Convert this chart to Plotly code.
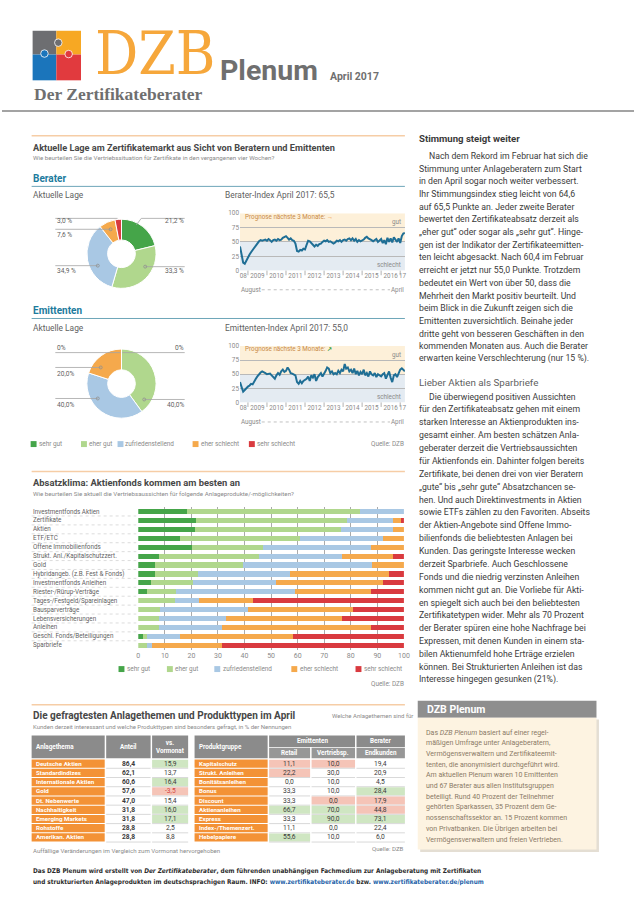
import plotly.graph_objects as go
import pandas as pd

W, H = 640, 906
FONT = "Roboto, Noto Sans, sans-serif"
COND = "DejaVu Sans Condensed, Roboto, sans-serif"
SERIF = "DejaVu Serif Condensed, Liberation Serif, serif"

TXT = "#3b3b3b"
MID = "#5f5f5f"
LIGHT = "#8a8a8a"
TEAL = "#1c7b9d"
ORANGE_RULE = "#f6cda6"
CELL_ORANGE = "#f39236"
HEAD_GREY = "#8b8b8b"
SUB_GREY = "#979797"
CELL_GREEN = "#cfe6c2"
CELL_RED = "#f5c4b7"
LINE_BLUE = "#1f6e95"

# ---------------- data ----------------
pie_labels = ["sehr gut", "eher gut", "zufriedenstellend", "eher schlecht", "sehr schlecht"]
pie_colors = ["#45a549", "#b0d78d", "#a9c8e4", "#f5a94c", "#d93a3f"]
berater_lage = [21.2, 33.3, 34.9, 7.6, 3.0]
emittenten_lage = [0.0, 40.0, 40.0, 20.0, 0.0]

months = pd.date_range("2008-08-01", "2017-04-01", freq="MS")
berater_index = [
    42, 28, 14, 12, 18,
    24, 28, 32, 36, 40, 44, 48, 51, 53, 52, 53, 54,
    52, 55, 53, 50, 53, 54, 52, 55, 53, 54, 57, 58,
    60, 57, 54, 56, 53, 52, 47, 34, 33, 36, 35, 38,
    37, 45, 52, 51, 48, 44, 42, 45, 43, 46, 47, 50,
    52, 51, 53, 50, 51, 49, 47, 49, 52, 51, 53, 50,
    53, 54, 52, 55, 56, 53, 56, 52, 55, 50, 53, 51,
    52, 54, 57, 59, 56, 55, 53, 51, 54, 55, 50, 52,
    55, 48, 53, 46, 57, 50, 56, 49, 58, 54, 50, 56,
    48, 60, 64.6, 65.5,
]
emittenten_index = [
    36, 28, 19, 22, 26,
    28, 30, 33, 32, 38, 42, 46, 50, 53, 55, 54, 52,
    50, 50, 51, 48, 44, 42, 48, 52, 49, 55, 58, 54,
    56, 62, 58, 52, 51, 50, 48, 36, 33, 38, 34, 38,
    40, 42, 46, 38, 48, 44, 50, 38, 45, 48, 52, 46,
    50, 56, 62, 60, 52, 55, 50, 52, 50, 56, 52, 58,
    55, 68, 60, 62, 55, 58, 52, 60, 50, 56, 48, 54,
    50, 58, 48, 52, 46, 55, 50, 48, 52, 45, 50, 48,
    46, 50, 52, 42, 48, 55, 44, 36, 48, 50, 45, 52,
    58, 60.4, 57, 55.0,
]
year_labels = ["08", "2009", "2010", "2011", "2012", "2013", "2014", "2015", "2016", "17"]
year_label_dates = ["2008-10-01", "2009-07-01", "2010-07-01", "2011-07-01", "2012-07-01",
                    "2013-07-01", "2014-07-01", "2015-07-01", "2016-07-01", "2017-02-15"]
year_starts = [2009, 2010, 2011, 2012, 2013, 2014, 2015, 2016, 2017]

categories = ["Investmentfonds Aktien", "Zertifikate", "Aktien", "ETF/ETC", "Offene Immobilienfonds",
              "Strukt. Anl./Kapitalschutzzert.", "Gold", "Hybridangeb. (z.B. Fest & Fonds)",
              "Investmentfonds Anleihen", "Riester-/Rürup-Verträge", "Tages-/Festgeld/Spareinlagen",
              "Bausparverträge", "Lebensversicherungen", "Anleihen", "Geschl. Fonds/Beteiligungen", "Sparbriefe"]
sehr_gut = [18.2, 21.9, 21.3, 15.6, 20.2, 7.8, 6.3, 6.3, 4.7, 3.3, 0, 0, 0, 0, 1.6, 0]
eher_gut = [65.2, 56.5, 54.9, 45.2, 26.9, 37.7, 33.2, 16.1, 15.9, 11.0, 13.8, 8.1, 7.8, 7.8, 1.7, 3.1]
zufrieden = [16.6, 17.4, 19.6, 31.5, 40.5, 31.2, 48.4, 34.8, 31.1, 44.7, 9.2, 33.2, 25.3, 23.6, 12.4, 1.9]
eher_schlecht = [0, 3.0, 4.2, 7.7, 12.4, 19.1, 12.1, 37.0, 40.6, 28.6, 20.2, 39.6, 43.7, 56.2, 42.4, 26.4]
sehr_schlecht = [0, 1.2, 0, 0, 0, 4.2, 0, 5.8, 7.7, 12.4, 56.8, 19.1, 23.2, 12.4, 41.9, 68.6]
bar_ticks = list(range(0, 101, 10))

themen = ["Deutsche Aktien", "Standardindizes", "Internationale Aktien", "Gold", "Dt. Nebenwerte",
          "Nachhaltigkeit", "Emerging Markets", "Rohstoffe", "Amerikan. Aktien"]
anteil = [86.4, 62.1, 60.6, 57.6, 47.0, 31.8, 31.8, 28.8, 28.8]
vs_vormonat = [15.9, 13.7, 16.4, -3.5, 15.4, 16.0, 17.1, 2.5, 8.8]
vs_markiert = ["+", "", "+", "-", "", "+", "+", "", ""]

produkte = ["Kapitalschutz", "Strukt. Anleihen", "Bonitätsanleihen", "Bonus", "Discount",
            "Aktienanleihen", "Express", "Index-/Themenzert.", "Hebelpapiere"]
emi_retail = [11.1, 22.2, 0.0, 33.3, 33.3, 66.7, 33.3, 11.1, 55.6]
emi_vertrieb = [10.0, 30.0, 10.0, 10.0, 0.0, 70.0, 90.0, 0.0, 10.0]
ber_endkunden = [19.4, 20.9, 4.5, 28.4, 17.9, 44.8, 73.1, 22.4, 6.0]
retail_markiert = ["-", "-", "", "", "", "+", "", "", "+"]
vertrieb_markiert = ["-", "", "", "", "-", "+", "+", "", ""]
endkunden_markiert = ["", "", "", "+", "-", "-", "+", "", ""]

absatz1 = [
    "Nach dem Rekord im Februar hat sich die",
    "Stimmung unter Anlageberatern zum Start",
    "in den April sogar noch weiter verbessert.",
    "Ihr Stimmungsindex stieg leicht von 64,6",
    "auf 65,5 Punkte an. Jeder zweite Berater",
    "bewertet den Zertifikateabsatz derzeit als",
    "„eher gut“ oder sogar als „sehr gut“. Hinge-",
    "gen ist der Indikator der Zertifikateemitten-",
    "ten leicht abgesackt. Nach 60,4 im Februar",
    "erreicht er jetzt nur 55,0 Punkte. Trotzdem",
    "bedeutet ein Wert von über 50, dass die",
    "Mehrheit den Markt positiv beurteilt. Und",
    "beim Blick in die Zukunft zeigen sich die",
    "Emittenten zuversichtlich. Beinahe jeder",
    "dritte geht von besseren Geschäften in den",
    "kommenden Monaten aus. Auch die Berater",
    "erwarten keine Verschlechterung (nur 15 %).",
]
absatz2 = [
    "Die überwiegend positiven Aussichten",
    "für den Zertifikateabsatz gehen mit einem",
    "starken Interesse an Aktienprodukten ins-",
    "gesamt einher. Am besten schätzen Anla-",
    "geberater derzeit die Vertriebsaussichten",
    "für Aktienfonds ein. Dahinter folgen bereits",
    "Zertifikate, bei denen drei von vier Beratern",
    "„gute“ bis „sehr gute“ Absatzchancen se-",
    "hen. Und auch Direktinvestments in Aktien",
    "sowie ETFs zählen zu den Favoriten. Abseits",
    "der Aktien-Angebote sind Offene Immo-",
    "bilienfonds die beliebtesten Anlagen bei",
    "Kunden. Das geringste Interesse wecken",
    "derzeit Sparbriefe. Auch Geschlossene",
    "Fonds und die niedrig verzinsten Anleihen",
    "kommen nicht gut an. Die Vorliebe für Akti-",
    "en spiegelt sich auch bei den beliebtesten",
    "Zertifikatetypen wider. Mehr als 70 Prozent",
    "der Berater spüren eine hohe Nachfrage bei",
    "Expressen, mit denen Kunden in einem sta-",
    "bilen Aktienumfeld hohe Erträge erzielen",
    "können. Bei Strukturierten Anleihen ist das",
    "Interesse hingegen gesunken (21%).",
]
box_text = [
    "Das <i>DZB Plenum</i> basiert auf einer regel-",
    "mäßigen Umfrage unter Anlageberatern,",
    "Vermögensverwaltern und Zertifikateemit-",
    "tenten, die anonymisiert durchgeführt wird.",
    "Am aktuellen Plenum waren 10 Emittenten",
    "und 67 Berater aus allen Institutsgruppen",
    "beteiligt. Rund 40 Prozent der Teilnehmer",
    "gehörten Sparkassen, 35 Prozent dem Ge-",
    "nossenschaftssektor an. 15 Prozent kommen",
    "von Privatbanken. Die Übrigen arbeiten bei",
    "Vermögensverwaltern und freien Vertrieben.",
]


def X(px):
    return px / W


def Y(py):
    return 1 - py / H


def fmt(v):
    return f"{v:.1f}".replace(".", ",")


fig = go.Figure()
anns, shapes = [], []


def T(x, y, s, size=7, color=TXT, anchor="left", bold=False, family=FONT, yanchor="middle", **extra):
    if bold:
        s = "<b>" + s + "</b>"
    anns.append(dict(x=X(x), y=Y(y), xref="paper", yref="paper", text=s, showarrow=False,
                     xanchor=anchor, yanchor=yanchor, borderpad=0,
                     font=dict(size=size, color=color, family=family), **extra))


def R(x0, y0, x1, y1, fill, lc=None, lw=0, layer="above"):
    shapes.append(dict(type="rect", xref="paper", yref="paper", x0=X(x0), x1=X(x1), y0=Y(y1), y1=Y(y0),
                       fillcolor=fill, line=dict(color=lc or fill, width=lw), layer=layer))


def L(x0, y0, x1, y1, color, width=1, dash="solid"):
    shapes.append(dict(type="line", xref="paper", yref="paper", x0=X(x0), x1=X(x1), y0=Y(y0), y1=Y(y1),
                       line=dict(color=color, width=width, dash=dash), layer="above"))


def C(cx, cy, r, fill, lc=None, lw=0):
    shapes.append(dict(type="circle", xref="paper", yref="paper", x0=X(cx - r), x1=X(cx + r),
                       y0=Y(cy + r), y1=Y(cy - r), fillcolor=fill,
                       line=dict(color=lc or fill, width=lw), layer="above"))


# ---------------- header ----------------
R(31, 27, 55, 51, "#6d6e71")
R(55, 27, 80, 51, "#f7a823")
R(31, 51, 55, 77, "#1b75bb")
R(55, 51, 80, 77, "#e13a3e")
C(57, 39, 3.8, "#6d6e71", "white", 0.8)
C(43, 50, 3.8, "#1b75bb", "white", 0.8)
C(67.5, 50.5, 3.8, "#e13a3e", "white", 0.8)
T(93, 49, "DZB", 60, "#f6a73b", family=SERIF, height=56, valign="middle")
T(220, 67, "Plenum", 28.5, "#6f6f6f", bold=True)
T(331, 73, "April 2017", 10.5, "#6f6f6f", bold=True)
T(31, 91, "Der Zertifikateberater", 17.5, "#6f6f6f", bold=True, family="Liberation Serif, serif")
L(0, 108, 640, 108, "#a3a3a3", 2)

# ---------------- section 1 ----------------
L(30, 133, 408, 133, ORANGE_RULE, 1.5)
T(30, 145, "Aktuelle Lage am Zertifikatemarkt aus Sicht von Beratern und Emittenten", 9.2, "#474747", bold=True)
T(30, 155.5, "Wie beurteilen Sie die Vertriebssituation für Zertifikate in den vergangenen vier Wochen?", 6.2, LIGHT)

for (ttl, ty, ly, sub_y, idx_title) in [("Berater", 176, 184, 193, "Berater-Index April 2017: 65,5"),
                                        ("Emittenten", 309.3, 317.3, 326.7, "Emittenten-Index April 2017: 55,0")]:
    T(30, ty, ttl, 10, TEAL, bold=True)
    L(30, ly, 408, ly, "#6ea6b9", 1)
    T(30, sub_y, "Aktuelle Lage", 8.4, MID)
    T(225, sub_y, idx_title, 8.4, MID)

# pies
pie_specs = [
    (berater_lage, 121, 252, " %",
     [("r", 219, 216.3, 141, False), ("r", 269, 265, 145, True), ("l", 269, 264, 97, True),
      ("l", 233, 227.3, 110, True), ("l", 219, 216.3, 117, False)]),
    (emittenten_lage, 121, 383, "%",
     [("r", 347.3, 351.7, 122, False), ("r", 405, 399, 144, True), ("l", 405, 398, 97, True),
      ("l", 373.3, 366.7, 100, True), ("l", 347.3, 351.7, 120, False)]),
]
PR = 35
for vals, cx, cy, unit, lay in pie_specs:
    fig.add_trace(go.Pie(values=vals, labels=pie_labels, sort=False, direction="clockwise", rotation=0,
                         hole=0.4, textinfo="none", showlegend=False,
                         marker=dict(colors=pie_colors, line=dict(color="white", width=1)),
                         domain=dict(x=[X(cx - PR), X(cx + PR)], y=[Y(cy + PR), Y(cy - PR)])))
    for v, (side, lab_y, line_y, inner_x, circ) in zip(vals, lay):
        lab = ("0" + unit.strip()) if v == 0 else fmt(v) + unit
        if side == "l":
            L(54, line_y, inner_x, line_y, "#a5a5a5", 0.8)
            T(55, lab_y, lab, 6.6, MID)
        else:
            L(inner_x, line_y, 185, line_y, "#a5a5a5", 0.8)
            T(185, lab_y, lab, 6.6, MID, anchor="right")
        if circ:
            C(inner_x, line_y, 1.5, "rgba(0,0,0,0)", "#8f8f8f", 0.8)
L(136, 223, 141, 216.3, "#a5a5a5", 0.8)

# index line charts
line_x = dict(type="date", range=[months[0], months[-1]], tickvals=year_label_dates, ticktext=year_labels,
              tickangle=0, showgrid=False, zeroline=False, showline=False, ticks="",
              tickfont=dict(size=6.3, color=LIGHT, family=FONT))
line_y = dict(range=[0, 100], tickvals=[0, 25, 50, 75, 100], showgrid=True, gridcolor="#b9b9b9",
              gridwidth=0.8, zeroline=False, showline=False, ticks="",
              tickfont=dict(size=6.4, color=LIGHT, family=FONT))
chart_specs = [("x", "y", berater_index, 211, 269, "#ef8a22", "→", 288.3),
               ("x2", "y2", emittenten_index, 345, 402, "#3d9e3d", "↗", 421.7)]
for xa, ya, series, top, bot, arrow_col, arrow, aug_y in chart_specs:
    fig.add_trace(go.Scatter(x=months, y=series, mode="lines", xaxis=xa, yaxis=ya, showlegend=False,
                             line=dict(color=LINE_BLUE, width=2)))
    shapes.append(dict(type="rect", xref=xa + " domain", yref=ya, x0=0, x1=1, y0=50, y1=100,
                       fillcolor="#fdf0d9", line=dict(width=0), layer="below"))
    shapes.append(dict(type="rect", xref=xa + " domain", yref=ya, x0=0, x1=1, y0=0, y1=50,
                       fillcolor="#e4ebf2", line=dict(width=0), layer="below"))
    for yr in year_starts:
        shapes.append(dict(type="line", xref=xa, yref=ya + " domain", x0=f"{yr}-01-01", x1=f"{yr}-01-01",
                           y0=0, y1=-0.08, line=dict(color="#a0a0a0", width=0.8), layer="above"))
    T(245, top + 3.5, "Prognose nächste 3 Monate: "
      f"<span style='color:{arrow_col}'><b>{arrow}</b></span>", 6.3, "#c98a48")
    T(405, top + 9, "gut", 6.3, LIGHT, anchor="right")
    T(405, bot - 5.5, "schlecht", 6.3, LIGHT, anchor="right")
    T(241, aug_y, "August", 6.3, LIGHT)
    T(408, aug_y, "April", 6.3, LIGHT, anchor="right")
    L(263, aug_y, 393, aug_y, "#b0b0b0", 0.8, "dot")

# legend 1
leg1 = [(29, 36), (80, 87), (117, 124), (193, 200), (250, 257)]
for (sx, tx), lab, col in zip(leg1, pie_labels, pie_colors):
    R(sx, 441, sx + 6, 447, col)
    T(tx, 444, lab, 6.4, LIGHT)
T(408, 444, "Quelle: DZB", 6.4, LIGHT, anchor="right")

# ---------------- section 2 ----------------
L(30, 471.7, 408, 471.7, ORANGE_RULE, 1.5)
T(30, 483, "Absatzklima: Aktienfonds kommen am besten an", 9.4, "#474747", bold=True)
T(30, 494, "Wie beurteilen Sie aktuell die Vertriebsaussichten für folgende Anlageprodukte/-möglichkeiten?",
  6.2, LIGHT)

for series, lab, col in zip([sehr_gut, eher_gut, zufrieden, eher_schlecht, sehr_schlecht], pie_labels, pie_colors):
    fig.add_trace(go.Bar(y=categories, x=series, orientation="h", name=lab, marker=dict(color=col, line=dict(width=0)),
                         xaxis="x3", yaxis="y3", showlegend=False))
for i, cat in enumerate(categories):
    anns.append(dict(x=X(30), y=cat, xref="paper", yref="y3", text=cat, showarrow=False, xanchor="left",
                     yanchor="middle", borderpad=0, font=dict(size=6.3, color=MID, family=FONT)))
    if i < len(categories) - 1:
        shapes.append(dict(type="line", xref="paper", yref="y3", x0=X(30), x1=X(136), y0=i + 0.5, y1=i + 0.5,
                           line=dict(color="#cdcdcd", width=0.7, dash="dot"), layer="above"))

leg2 = [(118, 125.5), (167, 174.5), (215, 222.5), (293, 300.5), (358, 365.5)]
for (sx, tx), lab, col in zip(leg2, pie_labels, pie_colors):
    R(sx, 668, sx + 6, 674, col)
    T(tx, 671, lab, 6.4, LIGHT)
T(408, 686, "Quelle: DZB", 6.4, LIGHT, anchor="right")

# ---------------- section 3 : tables ----------------
L(30, 707, 408, 707, ORANGE_RULE, 1.5)
T(30, 717.5, "Die gefragtesten Anlagethemen und Produkttypen im April", 10, "#474747", bold=True)
T(333, 717.5, "Welche Anlagethemen sind für", 6.0, LIGHT)
T(30, 728.5, "Kunden derzeit interessant und welche Produkttypen sind besonders gefragt, in % der Nennungen",
  6.0, LIGHT)

HT, HM, HB = 738, 750, 761
TOP, RH = 761.8, 9.3
WHITE_B = dict(size=6.3, color="white", bold=True)
# headers
R(30, HT, 104, HB, HEAD_GREY); T(33, (HT + HB) / 2, "Anlagethema", **WHITE_B)
R(105.5, HT, 150.5, HB, HEAD_GREY); T(128, (HT + HB) / 2, "Anteil", anchor="center", **WHITE_B)
R(152, HT, 188.5, HB, HEAD_GREY); T(170.3, (HT + HB) / 2, "vs.<br>Vormonat", anchor="center", **WHITE_B)
R(195, HT, 269, HB, HEAD_GREY); T(198, (HT + HB) / 2, "Produktgruppe", **WHITE_B)
R(270.5, HT, 357.5, HM - 0.5, HEAD_GREY); T(314, (HT + HM) / 2, "Emittenten", anchor="center", **WHITE_B)
R(359, HT, 408, HM - 0.5, HEAD_GREY); T(383.5, (HT + HM) / 2, "Berater", anchor="center", **WHITE_B)
for (a, b), lab in zip([(270.5, 312), (313.5, 357.5), (359, 408)], ["Retail", "Vertriebsp.", "Endkunden"]):
    R(a, HM + 0.5, b, HB, SUB_GREY)
    T((a + b) / 2, (HM + HB) / 2 + 0.3, lab, anchor="center", **WHITE_B)

mark_fill = {"+": CELL_GREEN, "-": CELL_RED}


def name_col(x0, x1, names):
    for i, nm in enumerate(names):
        y0 = TOP + i * RH
        R(x0, y0 + 0.5, x1, y0 + RH - 0.5, CELL_ORANGE)
        T(x0 + 3, y0 + RH / 2, nm, 6.2, "white", bold=True)


def value_col(x0, x1, vals, marks, bold=False):
    for i, v in enumerate(vals):
        y0 = TOP + i * RH
        m = marks[i] if marks else ""
        if m in mark_fill:
            R(x0, y0 + 0.6, x1, y0 + RH - 0.6, mark_fill[m])
        L(x0, y0 + RH, x1, y0 + RH, "#c9c9c9", 0.7)
        col = "#d2453f" if v < 0 else TXT
        T((x0 + x1) / 2, y0 + RH / 2, fmt(v), 6.7, col, anchor="center", bold=bold)


name_col(30, 104, themen)
value_col(105.5, 150.5, anteil, None, bold=True)
value_col(152, 188.5, vs_vormonat, vs_markiert)
name_col(195, 269, produkte)
value_col(270.5, 312, emi_retail, retail_markiert)
value_col(313.5, 357.5, emi_vertrieb, vertrieb_markiert)
value_col(359, 408, ber_endkunden, endkunden_markiert)

T(30, 854, "Auffällige Veränderungen im Vergleich zum Vormonat hervorgehoben", 6.1, LIGHT)
T(408, 852, "Quelle: DZB", 6.1, LIGHT, anchor="right")

T(30, 875, "Das DZB Plenum wird erstellt von <i>Der Zertifikateberater</i>, dem führenden unabhängigen "
  "Fachmedium zur Anlageberatung mit Zertifikaten", 6.4, "#2b2b2b", bold=True, family=COND)
T(30, 886, "und strukturierten Anlageprodukten im deutschsprachigen Raum. INFO: "
  "<span style='color:#1d5fa8'>www.zertifikateberater.de</span> bzw. "
  "<span style='color:#1d5fa8'>www.zertifikateberater.de/plenum</span>", 6.4, "#2b2b2b", bold=True, family=COND)

# ---------------- right column ----------------
T(421, 135.7, "Stimmung steigt weiter", 9.6, "#3a3a3a", bold=True)
for i, line in enumerate(absatz1):
    T(431 if i == 0 else 421.5, 153.3 + 12.8 * i, line, 8.7, TXT)
T(421, 381.7, "Lieber Aktien als Sparbriefe", 9.8, MID)
for i, line in enumerate(absatz2):
    T(431 if i == 0 else 421.5, 396 + 12.99 * i, line, 8.7, TXT)

R(423.5, 722, 604.5, 855.5, "#e4ded3")
R(421, 703, 602, 720, "#8e8e8e")
T(429, 711.5, "DZB Plenum", 10.5, "white", bold=True)
R(421, 720, 602, 853, "#fdf3e1")
for i, line in enumerate(box_text):
    T(428, 735 + 10.8 * i, line, 7, "#8a7a66")

fig.update_layout(
    width=W, height=H, margin=dict(l=0, r=0, t=0, b=0),
    paper_bgcolor="white", plot_bgcolor="rgba(0,0,0,0)",
    barmode="stack", bargap=0.42, showlegend=False,
    xaxis=dict(domain=[X(241), X(408)], anchor="y", **line_x),
    yaxis=dict(domain=[Y(269), Y(211)], anchor="x", **line_y),
    xaxis2=dict(domain=[X(241), X(408)], anchor="y2", **line_x),
    yaxis2=dict(domain=[Y(402), Y(345)], anchor="x2", **line_y),
    xaxis3=dict(domain=[X(138), X(407)], anchor="y3", range=[0, 100], tickvals=bar_ticks, showgrid=True,
                gridcolor="#ababab", gridwidth=0.8, zeroline=False, showline=False, ticks="",
                tickfont=dict(size=7, color=LIGHT, family=FONT)),
    yaxis3=dict(domain=[Y(652), Y(507)], anchor="x3", type="category", autorange="reversed",
                showticklabels=False, showgrid=False, zeroline=False, showline=False),
    annotations=anns, shapes=shapes,
    font=dict(family=FONT),
)

fig.write_html("out.html", config={"displayModeBar": False},
               post_script="document.body.style.margin='0px';document.body.style.overflow='hidden';")
